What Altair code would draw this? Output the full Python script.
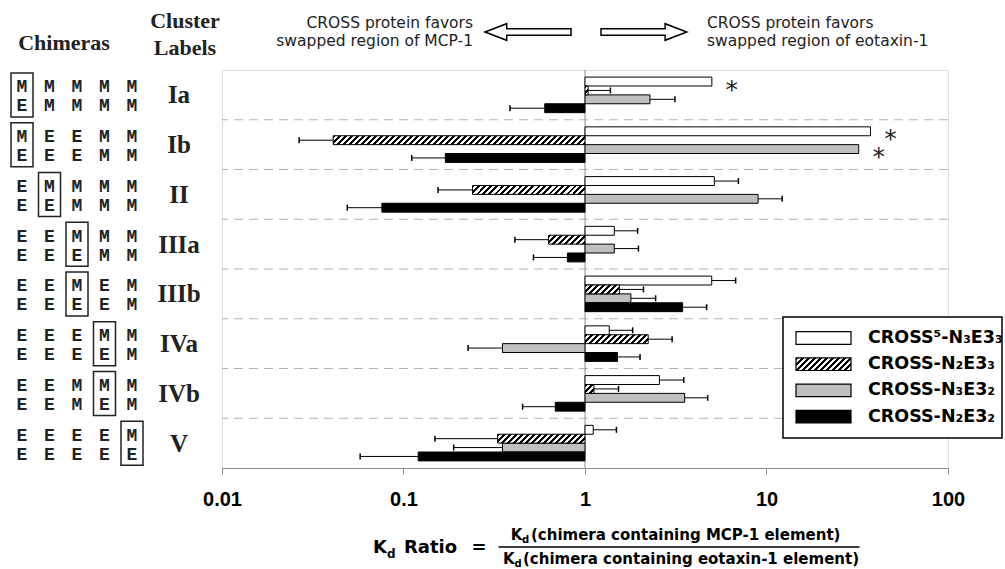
import math
import altair as alt
import pandas as pd

# ---------------- data ----------------
clusters = ["Ia", "Ib", "II", "IIIa", "IIIb", "IVa", "IVb", "V"]
series = ["CROSS⁵-N₃E3₃", "CROSS-N₂E3₃", "CROSS-N₃E3₂", "CROSS-N₂E3₂"]

white_vals = [5.0, 37.4, 5.16, 1.45, 4.99, 1.36, 2.57, 1.11]
white_errs = [None, None, 7.0, 1.95, 6.76, 1.83, 3.5, 1.49]
striped_vals = [1.04, 0.041, 0.24, 0.63, 1.55, 2.23, 1.12, 0.33]
striped_errs = [1.38, 0.0266, 0.155, 0.411, 2.10, 3.02, 1.53, 0.149]
gray_vals = [2.28, 32.2, 8.99, 1.45, 1.79, 0.351, 3.54, 0.351]
gray_errs = [3.13, None, 12.2, 1.97, 2.45, 0.227, 4.74, 0.189]
black_vals = [0.60, 0.170, 0.076, 0.80, 3.45, 1.51, 0.686, 0.1205]
black_errs = [0.386, 0.111, 0.049, 0.52, 4.68, 2.01, 0.453, 0.0577]

star_marks = [("Ia", 0), ("Ib", 0), ("Ib", 2)]

chimera_top = ["MMMMM", "MEEMM", "EMMMM", "EEMMM", "EEMEM", "EEEMM", "EEMMM", "EEEEM"]
chimera_bottom = ["EMMMM", "EEEMM", "EEMMM", "EEEMM", "EEEEM", "EEEEM", "EEMEM", "EEEEE"]
boxed_column = [0, 0, 1, 2, 2, 3, 3, 4]

x_ticks = [0.01, 0.1, 1, 10, 100]

# ---------------- layout ----------------
PW, PH = 726, 398
LEFT, TOP = 222, 70
n = len(clusters)
band = PH / n
bar_h = band / 5.6
hb = bar_h / band
decade = PW / 4
cap_u = 6 / band

vals = [white_vals, striped_vals, gray_vals, black_vals]
errs = [white_errs, striped_errs, gray_errs, black_errs]
rows = []
for gi, c in enumerate(clusters):
    for si in range(4):
        rows.append(dict(cluster=c, gi=gi, si=si, series=series[si],
                         value=vals[si][gi], err=errs[si][gi], base=1.0,
                         star=(c, si) in star_marks))
df = pd.DataFrame(rows)

xs = alt.Scale(type="log", domain=[0.01, 100], nice=False)
ys = alt.Scale(domain=[0, n], reverse=True, nice=False, zero=False)
xaxis = alt.Axis(values=x_ticks, format="~g", title=None, grid=False,
                 labelFont="Liberation Sans", labelFontSize=20, labelFontWeight="bold",
                 labelColor="black", labelPadding=15, tickSize=6, tickColor="#8c8c8c",
                 domainColor="#8c8c8c", labelFlush=False, labelOverlap=False)


def X(field):
    return alt.X(field, scale=xs, axis=xaxis)


def Y(field):
    return alt.Y(field, scale=ys, axis=None)


def geo(ch):
    return ch.transform_calculate(
        y0=f"datum.gi + 0.5 + (datum.si - 2) * {hb}",
        y1=f"datum.gi + 0.5 + (datum.si - 1) * {hb}",
        ym=f"datum.gi + 0.5 + (datum.si - 1.5) * {hb}",
        c0=f"datum.gi + 0.5 + (datum.si - 1.5) * {hb} - {cap_u / 2}",
        c1=f"datum.gi + 0.5 + (datum.si - 1.5) * {hb} + {cap_u / 2}",
    )


def hatch(wpx, hpx, period=6.0, ink=0.45):
    a = (wpx + hpx) * wpx / (wpx ** 2 + hpx ** 2)
    dt = period / (wpx + hpx)
    stops = []
    k = 0
    while k * dt < 1:
        t0 = round(k * dt, 5)
        t1 = round(min(k * dt + ink * dt, 1.0), 5)
        t2 = round(min((k + 1) * dt, 1.0), 5)
        stops += [{"offset": t0, "color": "black"}, {"offset": t1, "color": "black"},
                  {"offset": t1, "color": "white"}, {"offset": t2, "color": "white"}]
        k += 1
    return {"gradient": "linear", "x1": 0, "y1": 0, "x2": round(a, 5),
            "y2": round(a * hpx / wpx, 5), "stops": stops}


one = alt.Data(values=[{}])
layers = []

# separators
sep = pd.DataFrame({"pos": list(range(1, n))})
layers.append(alt.Chart(sep).mark_rule(color="#b4b4b4", strokeWidth=1, strokeDash=[9, 6])
              .encode(y=Y("pos:Q")))
# vertical line at 1
layers.append(alt.Chart(one).mark_rule(color="#8c8c8c", strokeWidth=1)
              .encode(x=alt.XDatum(1, scale=xs, axis=xaxis)))

# plain bars
layers.append(geo(alt.Chart(df)).transform_filter("datum.si != 1")
              .mark_rect(stroke="black", strokeWidth=1)
              .encode(x=X("value:Q"), x2="base:Q", y=Y("y0:Q"), y2="y1:Q",
                      fill=alt.Fill("series:N", legend=None,
                                    scale=alt.Scale(domain=[series[0], series[2], series[3]],
                                                    range=["white", "#bfbfbf", "black"]))))
# hatched bars
for gi in range(n):
    v = striped_vals[gi]
    wpx = max(abs(math.log10(v)) * decade, 1.0)
    layers.append(geo(alt.Chart(df)).transform_filter(f"datum.si == 1 && datum.gi == {gi}")
                  .mark_rect(stroke="black", strokeWidth=1, fill=hatch(wpx, bar_h))
                  .encode(x=X("value:Q"), x2="base:Q", y=Y("y0:Q"), y2="y1:Q"))

# error bars
layers.append(geo(alt.Chart(df)).transform_filter("isValid(datum.err)")
              .mark_rule(color="black", strokeWidth=1)
              .encode(x=X("value:Q"), x2="err:Q", y=Y("ym:Q")))
layers.append(geo(alt.Chart(df)).transform_filter("isValid(datum.err)")
              .mark_rule(color="black", strokeWidth=1.5)
              .encode(x=X("err:Q"), y=Y("c0:Q"), y2="c1:Q"))
# stars
layers.append(geo(alt.Chart(df)).transform_filter("datum.star")
              .mark_text(text="*", font="DejaVu Sans", fontSize=25, align="center",
                         baseline="alphabetic", dx=20, dy=16, color="#222")
              .encode(x=X("value:Q"), y=Y("ym:Q")))

# legend
lx0, lx1, ly0, ly1 = 561, 780, 247, 368
layers.append(alt.Chart(one).mark_rect(fill="white", stroke="black", strokeWidth=1.5)
              .encode(x=alt.value(lx0), x2=alt.value(lx1), y=alt.value(ly0), y2=alt.value(ly1)))
leg_fills = ["white", hatch(55, 12.6), "#bfbfbf", "black"]
for i, s in enumerate(series):
    cy = 268 + 26.2 * i
    layers.append(alt.Chart(one).mark_rect(fill=leg_fills[i], stroke="black", strokeWidth=1.2)
                  .encode(x=alt.value(574), x2=alt.value(629), y=alt.value(cy - 6.3),
                          y2=alt.value(cy + 6.3)))
    layers.append(alt.Chart(one).mark_text(text=s, font="DejaVu Sans", fontSize=17.5,
                                           fontWeight="bold", align="left", baseline="middle",
                                           color="black")
                  .encode(x=alt.value(646), y=alt.value(cy)))

# chimera letters and boxes
lrows = []
for gi in range(n):
    for c in range(5):
        lrows.append(dict(gi=gi, col=c, row=0, letter=chimera_top[gi][c], boxed=boxed_column[gi]))
        lrows.append(dict(gi=gi, col=c, row=1, letter=chimera_bottom[gi][c], boxed=boxed_column[gi]))
ldf = pd.DataFrame(lrows)
half_box = 22 / band
for c in range(5):
    px = (22 + 27.5 * c) - LEFT
    layers.append(alt.Chart(ldf).transform_filter(f"datum.row == 0 && datum.boxed == {c} && datum.col == {c}")
                  .transform_calculate(b0=f"datum.gi + 0.5 - {half_box}", b1=f"datum.gi + 0.5 + {half_box}")
                  .mark_rect(fillOpacity=0, stroke="#222", strokeWidth=1.5)
                  .encode(x=alt.value(px - 11), x2=alt.value(px + 11), y=Y("b0:Q"), y2="b1:Q"))
    for r, dy in ((0, -2.5), (1, 16.5)):
        layers.append(alt.Chart(ldf).transform_filter(f"datum.col == {c} && datum.row == {r}")
                      .transform_calculate(yc="datum.gi + 0.5")
                      .mark_text(font="Liberation Mono", fontSize=18, fontWeight="bold",
                                 align="center", baseline="alphabetic", dy=dy, color="#222")
                      .encode(x=alt.value(px), y=Y("yc:Q"), text="letter:N"))

# cluster labels
cdf = pd.DataFrame({"cluster": clusters, "gi": list(range(n))})
layers.append(alt.Chart(cdf).transform_calculate(yc="datum.gi + 0.5")
              .mark_text(font="Liberation Serif", fontSize=25, fontWeight="bold", align="center",
                         baseline="alphabetic", dy=8.5, color="#222")
              .encode(x=alt.value(179 - LEFT), y=Y("yc:Q"), text="cluster:N"))


def label(txt, x, y, size, font="DejaVu Sans", weight="normal", align="center",
          baseline="alphabetic", color="#222"):
    return (alt.Chart(one).mark_text(text=txt, font=font, fontSize=size, fontWeight=weight,
                                     align=align, baseline=baseline, color=color)
            .encode(x=alt.value(x - LEFT), y=alt.value(y - TOP)))


layers.append(label("Chimeras", 64, 50, 22, font="Liberation Serif", weight="bold"))
layers.append(label("Cluster", 185, 28, 22, font="Liberation Serif", weight="bold"))
layers.append(label("Labels", 185, 55, 22, font="Liberation Serif", weight="bold"))

layers.append(label("CROSS protein favors", 473, 27.5, 15.5, align="right"))
layers.append(label("swapped region of MCP-1", 473, 46, 15.5, align="right"))
layers.append(label("CROSS protein favors", 707, 27.5, 15.5, align="left"))
layers.append(label("swapped region of eotaxin-1", 707, 46, 15.5, align="left"))

left_arrow = "M-43,0L-21.3,-8.3L-21.3,-3.3L43,-3.3L43,3.3L-21.3,3.3L-21.3,8.3Z"
right_arrow = "M-42.9,-3.3L21.2,-3.3L21.2,-8.3L42.9,0L21.2,8.3L21.2,3.3L-42.9,3.3Z"
for path, cx in ((left_arrow, 528), (right_arrow, 643.9)):
    layers.append(alt.Chart(one).mark_point(shape=path, size=4, filled=False, color="black",
                                            strokeWidth=1.5, opacity=1)
                  .encode(x=alt.value(cx - LEFT), y=alt.value(32 - TOP)))

# formula
layers.append(label("K", 373, 548, 18, weight="bold", align="left", baseline="middle", color="black"))
layers.append(label("d", 387, 554, 12, weight="bold", align="left", baseline="middle", color="black"))
layers.append(label("Ratio", 404, 548, 18, weight="bold", align="left", baseline="middle", color="black"))
layers.append(label("=", 479, 548, 18, weight="bold", align="center", baseline="middle", color="black"))
layers.append(alt.Chart(one).mark_rule(color="black", strokeWidth=1.5)
              .encode(x=alt.value(498.5 - LEFT), x2=alt.value(859.5 - LEFT), y=alt.value(547 - TOP)))
layers.append(label("K", 510.7, 535, 15, weight="bold", align="left", baseline="middle", color="black"))
layers.append(label("d", 522, 540, 10, weight="bold", align="left", baseline="middle", color="black"))
layers.append(label("(chimera containing MCP-1 element)", 531, 535, 15, weight="bold",
                    align="left", baseline="middle", color="black"))
layers.append(label("K", 503, 559, 15, weight="bold", align="left", baseline="middle", color="black"))
layers.append(label("d", 514.5, 564, 10, weight="bold", align="left", baseline="middle", color="black"))
layers.append(label("(chimera containing eotaxin-1 element)", 523, 559, 15, weight="bold",
                    align="left", baseline="middle", color="black"))

chart = (alt.layer(*layers)
         .properties(width=PW, height=PH,
                     padding={"left": LEFT, "top": TOP, "right": 1005 - LEFT - PW,
                              "bottom": 569 - TOP - PH},
                     autosize=alt.AutoSizeParams(type="none"))
         .configure_view(stroke="#9a9a9a", strokeWidth=1)
         .configure(background="white"))

chart.save("out.html", embed_options={"renderer": "svg", "actions": False})
